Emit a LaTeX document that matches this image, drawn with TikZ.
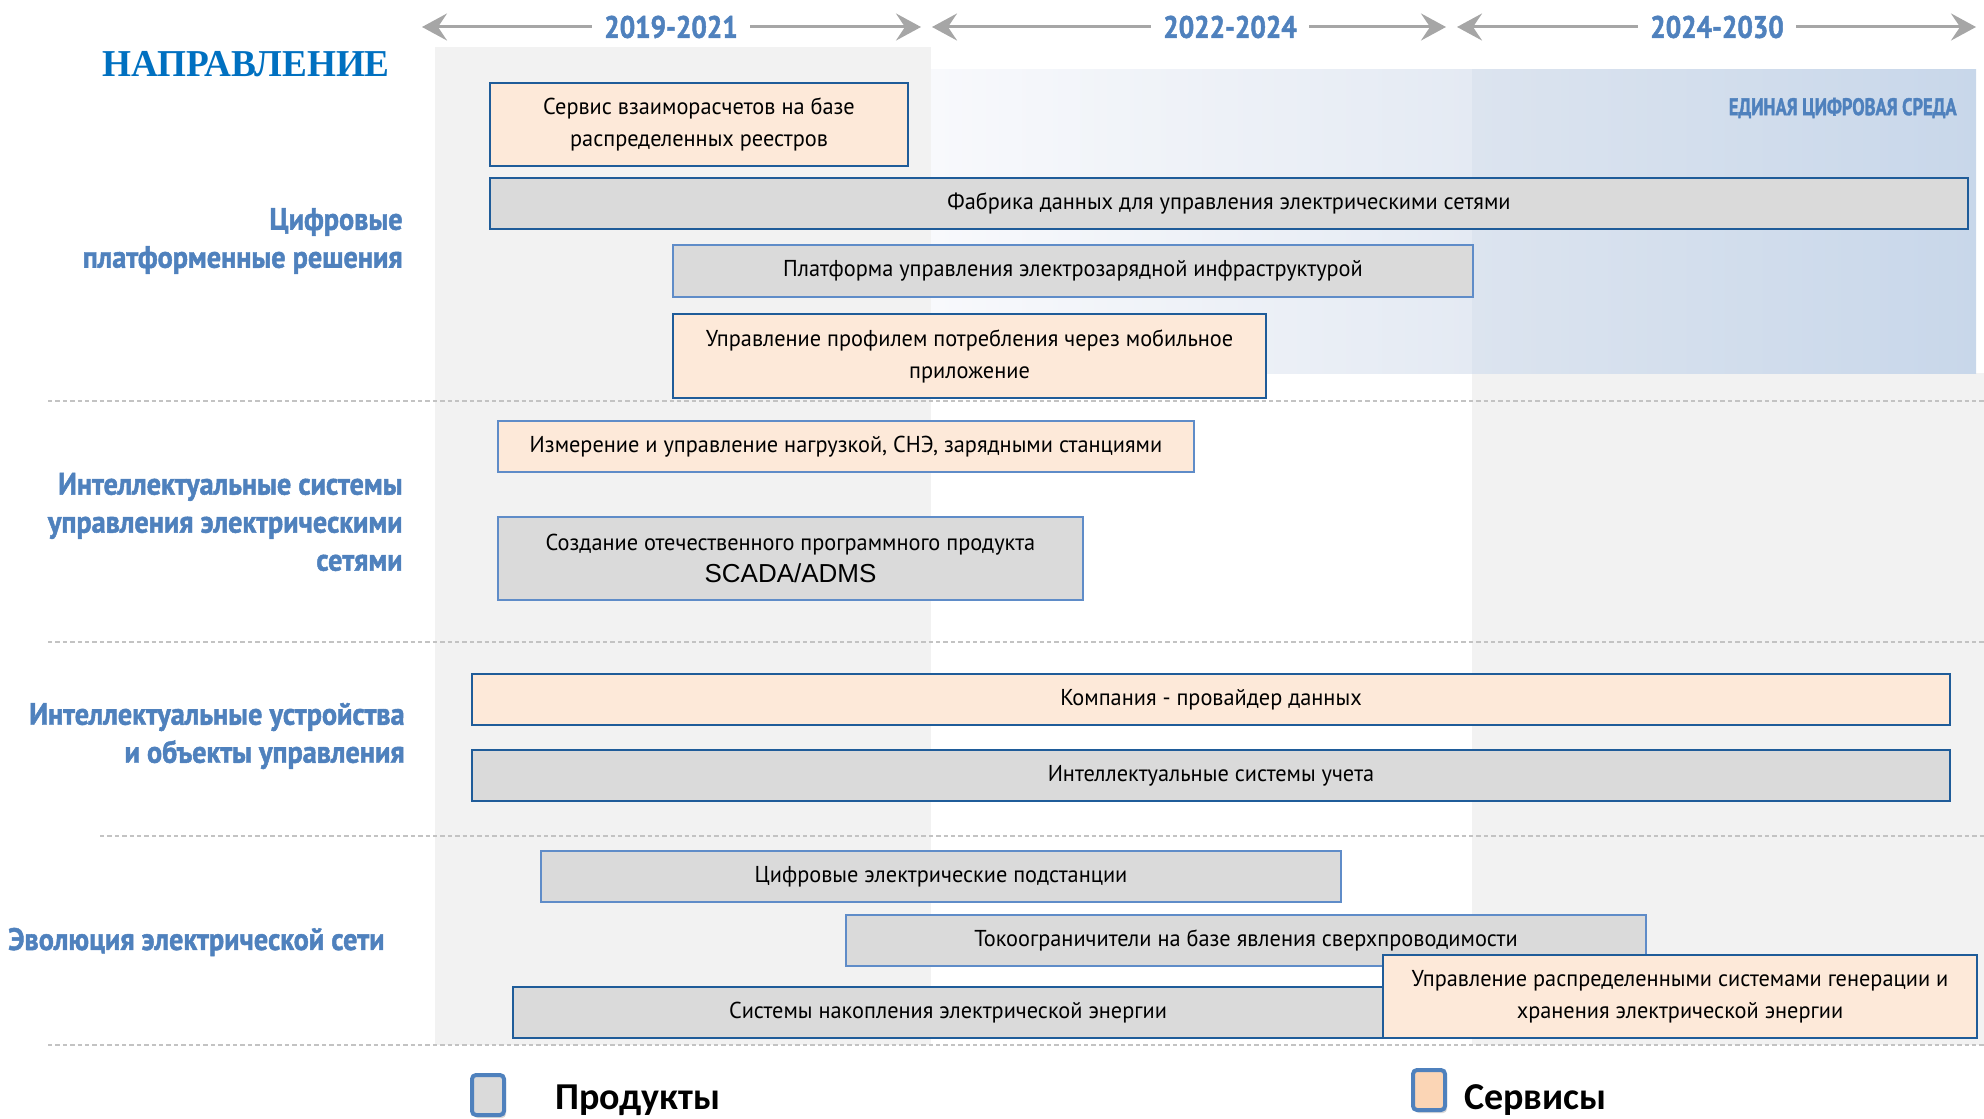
\documentclass[tikz,border=0pt]{standalone}
\usepackage{fontspec}
\usetikzlibrary{arrows.meta,positioning,shadows}
\newfontfamily\boxfont{PT Sans}[FakeStretch=0.97]
\newfontfamily\headfont{PT Sans}[FakeStretch=0.91, FakeBold=1.5]
\newfontfamily\yearfont{PT Sans}[FakeStretch=0.88, FakeBold=1.5]
\newfontfamily\tagfont{PT Sans}[FakeStretch=0.77, FakeBold=1.5]
\newfontfamily\titlefont{Liberation Serif}[FakeStretch=0.98]
\newfontfamily\legendfont{Carlito}
\newfontfamily\arialfont{Liberation Sans}
\definecolor{colgray}{HTML}{F2F2F2}
\definecolor{prodfill}{HTML}{DADADA}
\definecolor{servfill}{HTML}{FDE9D9}
\definecolor{keyserv}{HTML}{FBD5B5}
\definecolor{darkedge}{RGB}{31,92,153}
\definecolor{lightedge}{RGB}{95,140,200}
\definecolor{headblue}{RGB}{79,129,189}
\definecolor{titleblue}{RGB}{0,112,192}
\definecolor{arrowgray}{RGB}{166,166,166}
\definecolor{sepgray}{RGB}{195,195,195}
\definecolor{envA}{HTML}{F8F9FC}
\definecolor{envB}{HTML}{E4EAF3}
\definecolor{envC}{HTML}{DCE4EF}
\definecolor{envD}{HTML}{C8D7EA}
\tikzset{
  wh/.style 2 args={anchor=north west, minimum width=#1*0.5pt, minimum height=#2*0.5pt},
  bx/.style={draw, line width=1pt, inner sep=0pt, align=center, text=black,
    font=\boxfont\fontsize{11.5}{16}\selectfont},
  prod/.style={bx, fill=prodfill, draw=darkedge},
  prodl/.style={bx, fill=prodfill, draw=lightedge},
  serv/.style={bx, fill=servfill, draw=darkedge},
  servl/.style={bx, fill=servfill, draw=lightedge},
  head/.style={anchor=east, align=right, text=headblue, inner sep=0pt,
    font=\headfont\bfseries\fontsize{15.5}{19}\selectfont},
  year/.style={text=headblue, inner xsep=6pt,
    font=\yearfont\bfseries\fontsize{15.5}{19}\selectfont},
  tl/.style={draw=arrowgray, line width=1.5pt,
    -{Stealth[length=12.5pt,width=13.5pt,inset=4.5pt]}},
  sep/.style={draw=sepgray, line width=0.7pt, dash pattern=on 2.2pt off 1.5pt},
  key/.style={draw=headblue, line width=2pt, rounded corners=2pt,
    minimum width=16pt, minimum height=20pt,
    drop shadow={shadow xshift=1pt, shadow yshift=-1.5pt, opacity=0.3}},
  keytext/.style={font=\legendfont\bfseries\fontsize{19}{22}\selectfont}
}
\begin{document}
\begin{tikzpicture}[x=0.5pt, y=-0.5pt]
\useasboundingbox (0,0) rectangle (1984,1118);
\fill[colgray] (435,47) rectangle (931,1045);
\fill[colgray] (1472,373) rectangle (1984,1045);
\shade[left color=envA, right color=envB] (931,70) rectangle (1472,373);
\shade[left color=envC, right color=envD] (1472,70) rectangle (1976,373);
\node[anchor=east, text=headblue, inner sep=0pt,
  font=\tagfont\bfseries\fontsize{12}{14}\selectfont] (ECS) at (1957,108) {ЕДИНАЯ ЦИФРОВАЯ СРЕДА};

\draw[sep] (48,401) -- (1984,401);
\draw[sep] (48,642) -- (1984,642);
\draw[sep] (100,836) -- (1984,836);
\draw[sep] (48,1045) -- (1984,1045);

\node[anchor=base, text=titleblue, font=\titlefont\bfseries\fontsize{19}{22}\selectfont]
  (TT) at (246,77) {НАПРАВЛЕНИЕ};

\node[year] (Y1) at (671,27)  {2019-2021};
\node[year] (Y2) at (1230,27) {2022-2024};
\node[year] (Y3) at (1717,27) {2024-2030};
\coordinate (L1) at (422,27);
\coordinate (R1) at (921,27);
\coordinate (L2) at (932,27);
\coordinate (R2) at (1446,27);
\coordinate (L3) at (1457,27);
\coordinate (R3) at (1976,27);
\draw[tl] (Y1) -- (L1);
\draw[tl] (Y1) -- (R1);
\draw[tl] (Y2) -- (L2);
\draw[tl] (Y2) -- (R2);
\draw[tl] (Y3) -- (L3);
\draw[tl] (Y3) -- (R3);

\node[head] (H1) at (403,241) {Цифровые\\платформенные решения};
\node[head] (H2) at (403,522) {Интеллектуальные системы\\управления электрическими\\сетями};
\node[head] (H3) at (405,736) {Интеллектуальные устройства\\и объекты управления};
\node[head] (H4) at (385,942) {Эволюция электрической сети};

\node[serv, wh={418}{83}]   (S1)  at (489,82)   {Сервис взаиморасчетов на базе\\распределенных реестров};
\node[prod, wh={1478}{51}]  (S2)  at (489,177)  {Фабрика данных для управления электрическими сетями};
\node[prodl, wh={800}{52}]  (S3)  at (672,244)  {Платформа управления электрозарядной инфраструктурой};
\node[serv, wh={593}{84}]   (S4)  at (672,313)  {Управление профилем потребления через мобильное\\приложение};
\node[servl, wh={696}{51}]  (S5)  at (497,420)  {Измерение и управление нагрузкой, СНЭ, зарядными станциями};
\node[prodl, wh={585}{83}]  (S6)  at (497,516)  {Создание отечественного программного продукта\\{\arialfont\fontsize{13}{15}\selectfont SCADA/ADMS}};
\node[serv, wh={1478}{51}]  (S7)  at (471,673)  {Компания - провайдер данных};
\node[prod, wh={1478}{51}]  (S8)  at (471,749)  {Интеллектуальные системы учета};
\node[prodl, wh={800}{51}]  (S9)  at (540,850)  {Цифровые электрические подстанции};
\node[prodl, wh={800}{51}]  (S10) at (845,914)  {Токоограничители на базе явления сверхпроводимости};
\node[prod, wh={870}{51}]   (S11) at (512,986)  {Системы накопления электрической энергии};
\node[serv, wh={594}{83}]   (S12) at (1382,954) {Управление распределенными системами генерации и\\хранения электрической энергии};

\node[key, fill=prodfill] (KP) at (488,1095) {};
\node[key, fill=keyserv]  (KS) at (1429,1090) {};
\node[keytext, right=21pt of KP, yshift=-2.5pt] (TP) {Продукты};
\node[keytext, right=5pt of KS, yshift=-5pt]  (TS) {Сервисы};
\end{tikzpicture}
\end{document}
